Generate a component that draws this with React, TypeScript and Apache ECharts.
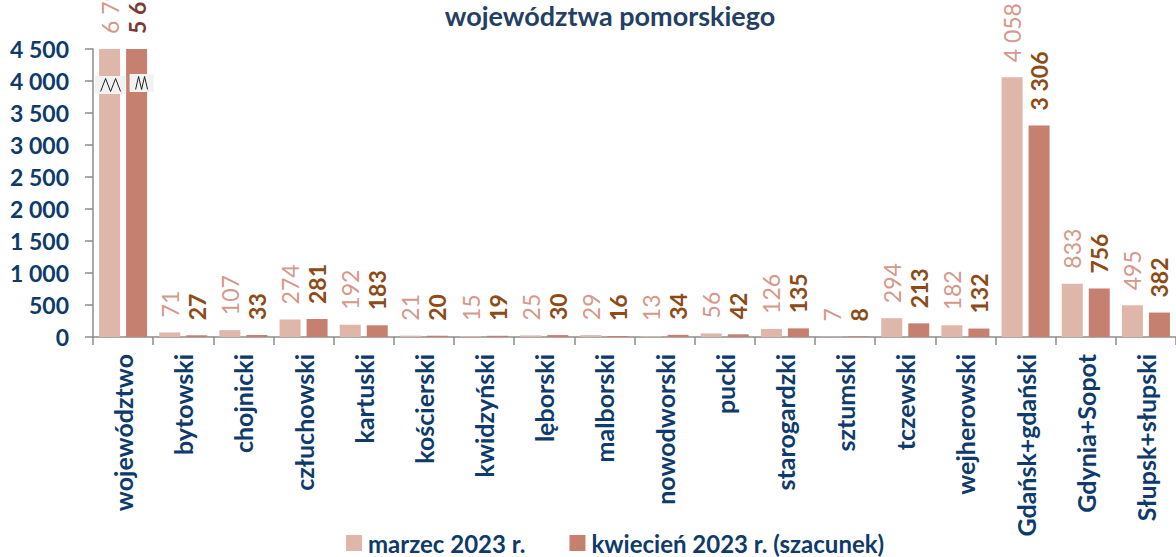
import React, { useEffect, useRef } from "react";
import * as echarts from "echarts";

const categories = [
  "województwo",
  "bytowski",
  "chojnicki",
  "człuchowski",
  "kartuski",
  "kościerski",
  "kwidzyński",
  "lęborski",
  "malborski",
  "nowodworski",
  "pucki",
  "starogardzki",
  "sztumski",
  "tczewski",
  "wejherowski",
  "Gdańsk+gdański",
  "Gdynia+Sopot",
  "Słupsk+słupski",
];
const marzec = [6798, 71, 107, 274, 192, 21, 15, 25, 29, 13, 56, 126, 7, 294, 182, 4058, 833, 495];
const kwiecien = [5617, 27, 33, 281, 183, 20, 19, 30, 16, 34, 42, 135, 8, 213, 132, 3306, 756, 382];
const seriesNames = ["marzec 2023 r.", "kwiecień 2023 r. (szacunek)"];
const titleText = "województwa pomorskiego";
const yMin = 0;
const yMax = 4500;
const yStep = 500;
const breakValue = 4000;

const fmt = (v: number) => String(v).replace(/\B(?=(\d{3})+(?!\d))/g, " ");

const FONT = "Lato";
const NAVY = "#0E3A6C";
const AXIS = "#8C8C8C";
const C1 = "#DFB6AA";
const C2 = "#C5806F";
const BAR_W = 21;
const BAR_GAP = 6;

export default function App() {
  const ref = useRef<HTMLDivElement>(null);
  useEffect(() => {
    document.body.style.margin = "0";
    const chart = echarts.init(ref.current!, null, { renderer: "svg" });
    chart.setOption({
      animation: false,
      textStyle: { fontFamily: FONT },
      title: {
        text: titleText,
        left: 610,
        textAlign: "center",
        top: 2,
        padding: 0,
        textStyle: { fontSize: 27, fontWeight: "bold", color: "#243F63", fontFamily: FONT },
      },
      legend: {
        data: seriesNames,
        left: 341,
        top: 526,
        itemWidth: 16,
        itemHeight: 16,
        itemGap: 44,
        icon: "rect",
        textStyle: { fontSize: 24, fontWeight: "bold", color: NAVY, fontFamily: FONT, padding: [0, 0, 0, 1] },
      },
      grid: { left: 93, top: 49, width: 1091, height: 288, containLabel: false },
      xAxis: {
        type: "category",
        data: categories,
        axisLine: { lineStyle: { color: AXIS, width: 1.5 } },
        axisTick: { show: true, length: 8, lineStyle: { color: AXIS, width: 1.5 } },
        axisLabel: {
          rotate: 90,
          interval: 0,
          margin: 17,
          fontSize: 25,
          fontWeight: "bold",
          color: NAVY,
          fontFamily: FONT,
        },
      },
      yAxis: {
        type: "value",
        min: yMin,
        max: yMax,
        interval: yStep,
        axisLine: { show: true, lineStyle: { color: AXIS, width: 1.5 } },
        axisTick: { show: true, length: 8, lineStyle: { color: AXIS, width: 1.5 } },
        splitLine: { show: false },
        axisLabel: {
          formatter: (v: number) => fmt(v),
          margin: 24,
          fontSize: 23,
          fontWeight: "bold",
          color: NAVY,
          fontFamily: FONT,
        },
      },
      series: [
        {
          name: seriesNames[0],
          type: "bar",
          data: marzec,
          barWidth: BAR_W,
          barGap: (BAR_GAP / BAR_W) * 100 + "%",
          itemStyle: { color: C1 },
          label: {
            show: true,
            position: "top",
            rotate: 90,
            align: "left",
            verticalAlign: "middle",
            distance: 15,
            formatter: (p: any) => fmt(p.value),
            fontSize: 23,
            fontWeight: "normal",
            color: "#D5988A",
            fontFamily: FONT,
          },
        },
        {
          name: seriesNames[1],
          type: "bar",
          data: kwiecien.map((v, i) => (i === 0 ? { value: v, label: { color: "#7B3B30" } } : v)),
          barWidth: BAR_W,
          barGap: (BAR_GAP / BAR_W) * 100 + "%",
          itemStyle: { color: C2 },
          label: {
            show: true,
            position: "top",
            rotate: 90,
            align: "left",
            verticalAlign: "middle",
            distance: 15,
            formatter: (p: any) => fmt(p.value),
            fontSize: 23,
            fontWeight: "bold",
            color: "#8E4A17",
            fontFamily: FONT,
          },
        },
      ],
    });

    const pt = chart.convertToPixel({ xAxisIndex: 0, yAxisIndex: 0 }, [0, breakValue]) as number[];
    const off = (BAR_W + BAR_GAP) / 2;
    const mk = (cx: number, cy: number, bw: number, zw: number) => {
      const h = 18;
      const zh = 13;
      const s = zw / 4;
      return [
        { type: "rect", shape: { x: cx - bw / 2, y: cy - h / 2, width: bw, height: h }, style: { fill: "#F2F2F2" }, z: 100 },
        {
          type: "polyline",
          shape: {
            points: [0, 1, 2, 3, 4].map((k) => [cx - zw / 2 + k * s, k % 2 === 0 ? cy + zh / 2 : cy - zh / 2]),
          },
          style: { stroke: "#222", lineWidth: 1, fill: null },
          z: 101,
        },
      ];
    };
    chart.setOption({
      graphic: [...mk(pt[0] - off + 1, pt[1] + 4, 31, 20), ...mk(pt[0] + off + 5, pt[1] + 2, 24, 12)],
    });

    return () => chart.dispose();
  }, []);
  return <div ref={ref} style={{ width: 1176, height: 557 }} />;
}
